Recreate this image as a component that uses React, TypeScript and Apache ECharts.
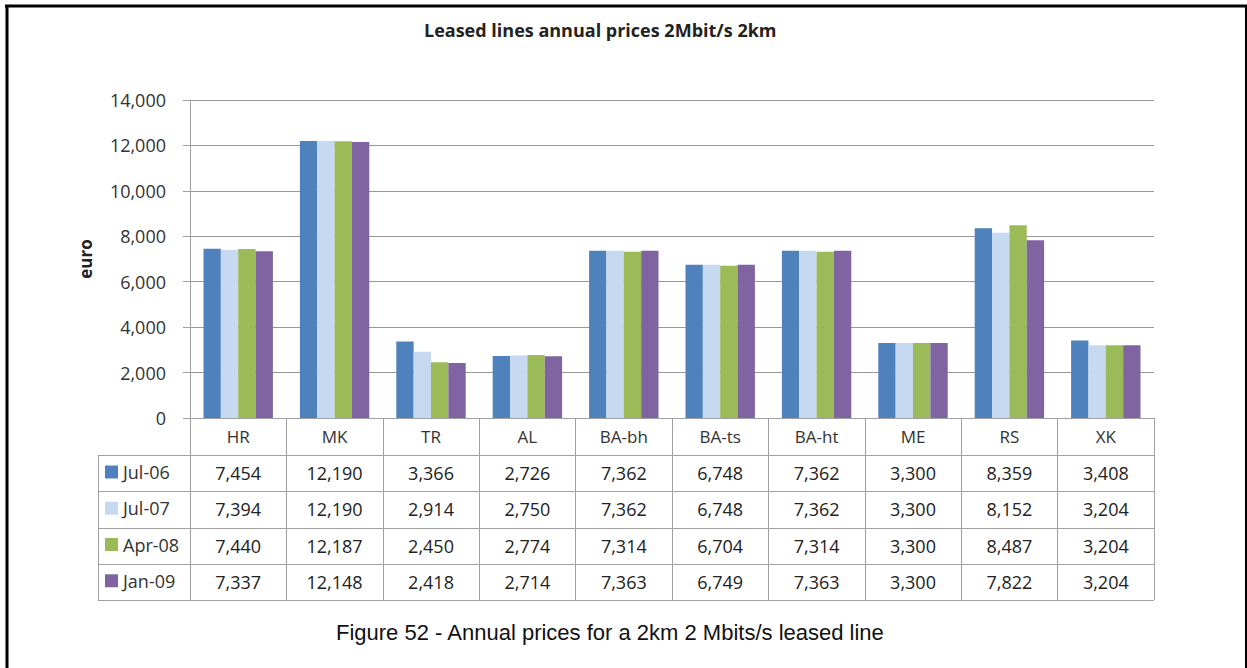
import React, { useEffect, useRef } from "react";
import * as echarts from "echarts";

const categories = ["HR", "MK", "TR", "AL", "BA-bh", "BA-ts", "BA-ht", "ME", "RS", "XK"];
const seriesNames = ["Jul-06", "Jul-07", "Apr-08", "Jan-09"];
const jul06 = [7454, 12190, 3366, 2726, 7362, 6748, 7362, 3300, 8359, 3408];
const jul07 = [7394, 12190, 2914, 2750, 7362, 6748, 7362, 3300, 8152, 3204];
const apr08 = [7440, 12187, 2450, 2774, 7314, 6704, 7314, 3300, 8487, 3204];
const jan09 = [7337, 12148, 2418, 2714, 7363, 6749, 7363, 3300, 7822, 3204];
const yTicks = [0, 2000, 4000, 6000, 8000, 10000, 12000, 14000];
const colors = ["#4F81BD", "#C6D9F1", "#9BBB59", "#8064A2"];

const allSeries = [jul06, jul07, apr08, jan09];
const fmt = (v: number) => v.toLocaleString("en-US");

export default function App() {
  const ref = useRef<HTMLDivElement>(null);
  useEffect(() => {
    if (!ref.current) return;
    const chart = echarts.init(ref.current, null, { renderer: "svg" });
    const gridLeft = 190, gridRight = 1154, gridTop = 100, gridBottom = 418;
    const headerH = 37, rowH = 36.25, tableLeft = 98;
    const tableLines: any[] = [];
    for (let i = 0; i <= allSeries.length; i++) {
      const y = Math.round(gridBottom + headerH + i * rowH) + 0.5;
      tableLines.push({
        type: "line",
        shape: { x1: tableLeft, y1: y, x2: gridRight, y2: y },
        style: { stroke: "#a0a0a0", lineWidth: 1 },
      });
    }
    tableLines.push({
      type: "line",
      shape: { x1: tableLeft + 0.5, y1: gridBottom + headerH, x2: tableLeft + 0.5, y2: gridBottom + headerH + allSeries.length * rowH + 1 },
      style: { stroke: "#a0a0a0", lineWidth: 1 },
    });
    const font = "'Open Sans', sans-serif";
    const option: any = {
      animation: false,
      backgroundColor: "#ffffff",
      title: [
        {
          text: "Leased lines annual prices 2Mbit/s 2km",
          left: 424,
          top: 21,
          padding: 0,
          textStyle: { fontFamily: font, fontSize: 18, fontWeight: "bold", color: "#222" },
        },
        {
          text: "Figure 52 - Annual prices for a 2km 2 Mbits/s leased line",
          left: 336,
          top: 621,
          padding: 0,
          textStyle: { fontFamily: "'Liberation Sans', Arial, sans-serif", fontSize: 22, fontWeight: "normal", color: "#111" },
        },
      ],
      legend: {
        orient: "vertical",
        left: 105,
        top: 462,
        padding: 0,
        itemWidth: 13,
        itemHeight: 13,
        itemGap: 16.25,
        icon: "rect",
        data: seriesNames,
        textStyle: { fontFamily: font, fontSize: 18, color: "#333", lineHeight: 20 },
        selectedMode: false,
      },
      grid: { left: gridLeft, right: 1247 - gridRight, top: gridTop, bottom: 668 - gridBottom },
      xAxis: {
        type: "category",
        data: categories,
        axisLine: { show: true, lineStyle: { color: "#a0a0a0", width: 1 } },
        axisTick: {
          show: true,
          interval: 0,
          length: headerH + allSeries.length * rowH,
          lineStyle: { color: "#a0a0a0", width: 1 },
        },
        axisLabel: {
          interval: 0,
          margin: 0,
          formatter: (val: string, idx: number) => {
            const lines = [`{h|${val}}`];
            allSeries.forEach((s) => lines.push(`{v|${fmt(s[idx])}}`));
            return lines.join("\n");
          },
          rich: {
            h: { fontFamily: font, fontSize: 17, color: "#333", lineHeight: headerH },
            v: { fontFamily: font, fontSize: 18, color: "#222", lineHeight: rowH },
          },
        },
      },
      yAxis: {
        type: "value",
        min: 0,
        max: 14000,
        interval: 2000,
        name: "euro",
        nameLocation: "middle",
        nameGap: 96,
        nameRotate: 90,
        nameTextStyle: { fontFamily: font, fontSize: 17, fontWeight: "bold", color: "#222" },
        axisLine: { show: true, lineStyle: { color: "#a0a0a0", width: 1 } },
        axisTick: { show: true, length: 7, lineStyle: { color: "#a0a0a0" } },
        axisLabel: {
          fontFamily: font,
          fontSize: 18,
          color: "#333",
          margin: 24,
          customValues: yTicks,
          formatter: (v: number) => fmt(v),
        },
        splitLine: { show: true, lineStyle: { color: "#999", width: 1 } },
      },
      series: allSeries.map((s, i) => ({
        type: "bar",
        name: seriesNames[i],
        data: s,
        barGap: "0%",
        barCategoryGap: "28%",
        itemStyle: { color: colors[i] },
      })),
      graphic: [
        ...tableLines,
        { type: "line", shape: { x1: 5, y1: 6, x2: 1247, y2: 6 }, style: { stroke: "#000", lineWidth: 3 } },
        { type: "line", shape: { x1: 7, y1: 5, x2: 7, y2: 668 }, style: { stroke: "#000", lineWidth: 3 } },
        { type: "line", shape: { x1: 1246, y1: 5, x2: 1246, y2: 668 }, style: { stroke: "#000", lineWidth: 2 } },
      ],
    };
    chart.setOption(option);
    return () => chart.dispose();
  }, []);
  return (
    <div
      ref={ref}
      style={{ position: "fixed", left: 0, top: 0, width: 1247, height: 668, background: "#fff" }}
    />
  );
}
